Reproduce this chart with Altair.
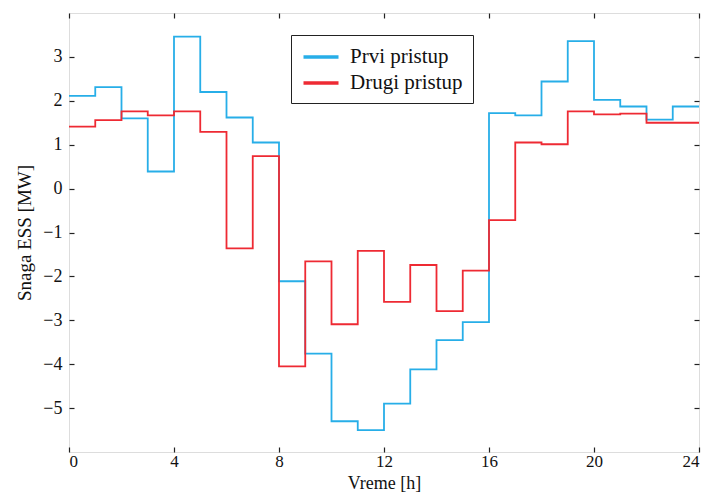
import altair as alt
import pandas as pd

hours = list(range(25))
prvi = [2.11, 2.31, 1.60, 0.39, 3.46, 2.20, 1.62, 1.05,
        -2.11, -3.76, -5.30, -5.50, -4.90, -4.12, -3.45, -3.04,
        1.72, 1.67, 2.44, 3.36, 2.02, 1.87, 1.57, 1.87]
drugi = [1.41, 1.56, 1.76, 1.67, 1.76, 1.29, -1.36, 0.74,
         -4.05, -1.66, -3.09, -1.42, -2.58, -1.74, -2.79, -1.87,
         -0.72, 1.05, 1.01, 1.76, 1.69, 1.71, 1.50, 1.50]
series_names = ["Prvi pristup", "Drugi pristup"]
series_colors = ["#27aee8", "#ee2a33"]
x_ticks = [0, 4, 8, 12, 16, 20, 24]
y_ticks = [-5, -4, -3, -2, -1, 0, 1, 2, 3]

rows = []
for name, vals in zip(series_names, [prvi, drugi]):
    v = vals + [vals[-1]]
    for h, val in zip(hours, v):
        rows.append({"h": h, "p": val, "s": name})
df = pd.DataFrame(rows)

FONT = "Liberation Serif"
xs = alt.Scale(domain=[0, 24], nice=False, zero=False)
ys = alt.Scale(domain=[-6, 4], nice=False, zero=False)
color = alt.Color("s:N", scale=alt.Scale(domain=series_names, range=series_colors),
                  sort=series_names,
                  legend=alt.Legend(title=None, orient="none", legendX=222, legendY=22,
                                    symbolType="M-1.75,0H1.75", symbolSize=400,
                                    symbolStrokeWidth=3.5, symbolOffset=8,
                                    labelFont=FONT, labelFontSize=21,
                                    labelColor="#111", labelOffset=17,
                                    rowPadding=4, padding=10,
                                    strokeColor="#222", fillColor="white",
                                    labelLimit=300))

common_axis = dict(tickSize=5, domain=False, grid=False, offset=-5,
                   tickColor="#222", tickWidth=1.2, labelFont=FONT,
                   labelColor="#111", titleFont=FONT,
                   titleColor="#111", titleFontWeight="normal")

main = alt.Chart(df).mark_line(interpolate="step-after", strokeWidth=1.8).encode(
    x=alt.X("h:Q", scale=xs,
            axis=alt.Axis(orient="bottom", values=x_ticks, title="Vreme [h]",
                          labelPadding=1, labelFontSize=17, titleFontSize=18,
                          titleY=27, titleBaseline="top", **common_axis)),
    y=alt.Y("p:Q", scale=ys,
            axis=alt.Axis(orient="left", values=y_ticks, title="Snaga ESS [MW]",
                          labelPadding=7, labelFontSize=18, titleFontSize=19,
                          titlePadding=8, **common_axis)),
    color=color,
)

frame = alt.Chart(df).mark_line(opacity=0).encode(
    x=alt.X("h:Q", scale=xs,
            axis=alt.Axis(orient="top", values=x_ticks, labels=False, title=None,
                          **common_axis)),
    y=alt.Y("p:Q", scale=ys,
            axis=alt.Axis(orient="right", values=y_ticks, labels=False, title=None,
                          **common_axis)),
    detail="s:N",
)

chart = alt.layer(main, frame).resolve_scale(x="independent", y="independent").properties(
    width=630, height=439,
    autosize=alt.AutoSizeParams(type="none"),
    padding={"left": 69, "top": 13, "right": 24, "bottom": 44},
).configure_view(stroke="#222", strokeWidth=1.5).configure(background="white")

chart.save("out.html", embed_options={"renderer": "svg", "actions": False})
